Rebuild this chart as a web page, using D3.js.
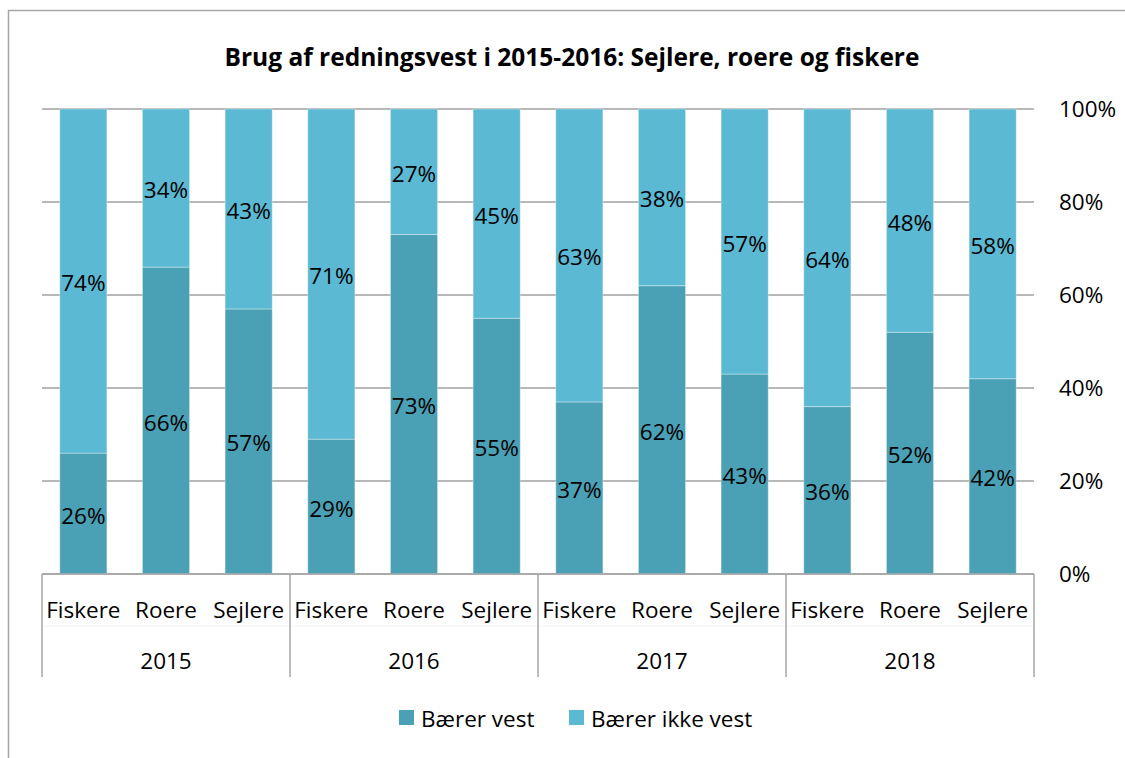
<!DOCTYPE html>
<html>
<head>
<meta charset="utf-8">
<script src="https://cdn.jsdelivr.net/npm/d3@7"></script>
<style>
  body { margin: 0; background: #fff; }
  text { font-family: "Open Sans", sans-serif; fill: #000; }
</style>
</head>
<body>
<div id="chart"></div>
<script>
// data
const years = ['2015', '2016', '2017', '2018'];
const groups = ['Fiskere', 'Roere', 'Sejlere'];
const baererVest = [26, 66, 57, 29, 73, 55, 37, 62, 43, 36, 52, 42];
const baererIkkeVest = [74, 34, 43, 71, 27, 45, 63, 38, 57, 64, 48, 58];
const seriesNames = ['Bærer vest', 'Bærer ikke vest'];
const yTicks = [0, 20, 40, 60, 80, 100];

const width = 1125, height = 758;
const margin = {t:109, r:91, b:184, l:42};
const w = width - margin.l - margin.r;
const h = height - margin.t - margin.b;
const colors = ['#4aa0b5', '#5bb9d3'];
const fs = '22.5px';

const svg = d3.select('#chart')
  .append('svg')
  .attr('width', width)
  .attr('height', height);

// outer frame (only top and left visible)
svg.append('path')
  .attr('d', `M8.5,${height} V10.5 H${width}`)
  .attr('fill', 'none')
  .attr('stroke', '#a6a6a6')
  .attr('stroke-width', 1.5);

svg.append('text')
  .attr('x', 572)
  .attr('y', 66)
  .attr('text-anchor', 'middle')
  .style('font-size', '24.5px')
  .style('font-weight', 'bold')
  .text('Brug af redningsvest i 2015-2016: Sejlere, roere og fiskere');

const plot = svg.append('g')
  .attr('transform', `translate(${margin.l},${margin.t})`);

// flat table of bars
const rows = [];
years.forEach((yr, i) => {
  groups.forEach((g, j) => {
    const k = i * groups.length + j;
    rows.push({year: yr, group: g, a: baererVest[k], b: baererIkkeVest[k]});
  });
});

const scaleX0 = d3.scaleBand().domain(years).range([0, w]);
const scaleX1 = d3.scaleBand().domain(groups).range([0, scaleX0.bandwidth()])
  .paddingInner(0.43).paddingOuter(0.215);
const scaleY = d3.scaleLinear().domain([0, 100]).range([h, 0]);

// gridlines
plot.selectAll('.grid')
  .data(yTicks)
  .enter()
  .append('line')
  .attr('class', 'grid')
  .attr('x1', 0)
  .attr('x2', w)
  .attr('y1', d => scaleY(d))
  .attr('y2', d => scaleY(d))
  .attr('stroke', '#a0a0a0')
  .attr('stroke-width', 1.5);

// right axis labels
const axisY = d3.axisRight(scaleY)
  .tickValues(yTicks)
  .tickSize(0)
  .tickPadding(25)
  .tickFormat(d => d + '%');
const axisYNode = plot.append('g')
  .attr('transform', `translate(${w},0)`)
  .call(axisY);
axisYNode.select('.domain').remove();
axisYNode.selectAll('text')
  .style('font-size', fs)
  .style('font-family', '"Open Sans", sans-serif');

// stacks
const stack = d3.stack().keys(['a', 'b']);
const layers = stack(rows);

const layerG = plot.selectAll('.layer')
  .data(layers)
  .enter()
  .append('g')
  .attr('class', 'layer')
  .attr('fill', (d, i) => colors[i]);

layerG.selectAll('rect')
  .data(d => d)
  .enter()
  .append('rect')
  .attr('x', d => scaleX0(d.data.year) + scaleX1(d.data.group))
  .attr('width', scaleX1.bandwidth())
  .attr('y', d => scaleY(d[1]))
  .attr('height', d => scaleY(d[0]) - scaleY(d[1]))
  .attr('stroke', 'rgba(255,255,255,0.35)')
  .attr('stroke-width', 1);

layerG.selectAll('.lbl')
  .data(d => d)
  .enter()
  .append('text')
  .attr('class', 'lbl')
  .attr('x', d => scaleX0(d.data.year) + scaleX1(d.data.group) + scaleX1.bandwidth() / 2)
  .attr('y', d => (scaleY(d[0]) + scaleY(d[1])) / 2 + 10)
  .attr('text-anchor', 'middle')
  .style('font-size', fs)
  .text(d => (d[1] - d[0]) + '%');

// x axis: two level category axis
const axisColor = '#a6a6a6';
plot.append('line')
  .attr('x1', 0).attr('x2', w)
  .attr('y1', h).attr('y2', h)
  .attr('stroke', axisColor)
  .attr('stroke-width', 1.5);

plot.append('line')
  .attr('x1', 0).attr('x2', w)
  .attr('y1', h + 52).attr('y2', h + 52)
  .attr('stroke', '#f3f3f3')
  .attr('stroke-width', 1);

const bounds = years.map(y => scaleX0(y)).concat([w]);
plot.selectAll('.sep')
  .data(bounds)
  .enter()
  .append('line')
  .attr('class', 'sep')
  .attr('x1', d => d).attr('x2', d => d)
  .attr('y1', h).attr('y2', h + 103)
  .attr('stroke', axisColor)
  .attr('stroke-width', 1.5);

plot.selectAll('.cat')
  .data(rows)
  .enter()
  .append('text')
  .attr('class', 'cat')
  .attr('x', d => scaleX0(d.year) + scaleX1(d.group) + scaleX1.bandwidth() / 2)
  .attr('y', h + 44)
  .attr('text-anchor', 'middle')
  .style('font-size', fs)
  .text(d => d.group);

plot.selectAll('.yr')
  .data(years)
  .enter()
  .append('text')
  .attr('class', 'yr')
  .attr('x', d => scaleX0(d) + scaleX0.bandwidth() / 2)
  .attr('y', h + 95)
  .attr('text-anchor', 'middle')
  .style('font-size', fs)
  .text(d => d);

// legend
const legendX = [399, 569];
const legend = svg.selectAll('.legend')
  .data(seriesNames)
  .enter()
  .append('g')
  .attr('class', 'legend')
  .attr('transform', (d, i) => `translate(${legendX[i]},710)`);
legend.append('rect')
  .attr('width', 15).attr('height', 15)
  .attr('fill', (d, i) => colors[i]);
legend.append('text')
  .attr('x', 22)
  .attr('y', 17)
  .style('font-size', fs)
  .text(d => d);
</script>
</body>
</html>
